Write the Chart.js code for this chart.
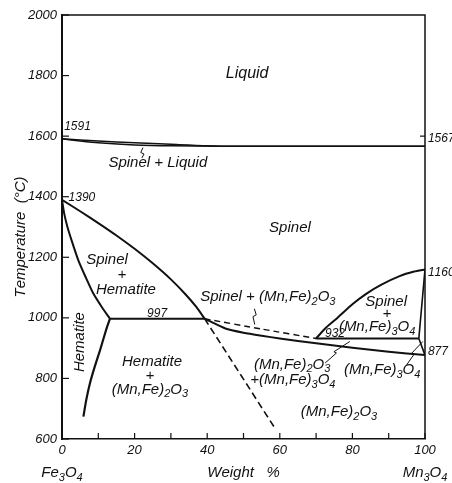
<!DOCTYPE html>
<html>
<head>
<meta charset="utf-8">
<script src="https://cdn.jsdelivr.net/npm/chart.js@4.4.1/dist/chart.umd.min.js"></script>
<style>
  html, body { margin: 0; padding: 0; background: #fff; }
  canvas { display: block; }
</style>
</head>
<body>
<canvas id="phaseChart" width="452" height="483"></canvas>
<script>
// ====================
// DATA  (x = weight % Mn3O4, y = temperature °C)
// ====================
const xTickValues = [0, 10, 20, 30, 40, 50, 60, 70, 80, 90, 100];
const xTickLabels = ["0", "", "20", "", "40", "", "60", "", "80", "", "100"];
const yTickValues = [600, 800, 1000, 1200, 1400, 1600, 1800, 2000];

const liquidusX = [0, 10, 20, 30, 45, 100];
const liquidusT = [1591, 1584, 1578, 1573, 1567, 1567];

const solidusX = [0, 5, 10, 20, 30, 45, 100];
const solidusT = [1591, 1584, 1578, 1571, 1568, 1567, 1567];

const spinelX = [0, 5, 10, 15, 20, 25, 30, 34, 37, 39.3];
const spinelT = [1390, 1352, 1313, 1272, 1228, 1180, 1127, 1078, 1036, 997];

const hemUpperX = [0, 0.6, 1.5, 2.8, 4.5, 6.5, 8.6, 11, 13.2];
const hemUpperT = [1390, 1345, 1300, 1250, 1190, 1135, 1081, 1035, 997];

const hemLowerX = [13.2, 12.3, 10.5, 9, 7.7, 6.7, 5.9];
const hemLowerT = [997, 966, 894, 838, 784, 730, 674];

const eutectoidX = [13.2, 39.3];
const eutectoidT = [997, 997];

const spinelLowX = [39.3, 45, 50, 55, 60, 70, 80, 90, 100];
const spinelLowT = [997, 965, 951, 941, 932, 916, 901, 888, 877];

const dashUpperX = [39.3, 55, 70];
const dashUpperT = [997, 963, 932];

const dashDownX = [39.3, 58.7];
const dashDownT = [997, 635];

const line932X = [70, 98.3];
const line932T = [932, 932];

const hausX = [70, 72.5, 75.7, 80, 84, 88, 93, 97, 100];
const hausT = [932, 965, 998, 1045, 1081, 1110, 1138, 1153, 1160];

const rightEdgeX = [100, 98.3, 100];
const rightEdgeT = [1160, 932, 877];

// little squiggle leaders from labels to narrow fields
const leader1X = [22.0, 22.6, 21.7, 22.3];
const leader1T = [1528, 1541, 1546, 1562];
const leader2X = [53.0, 53.5, 52.6, 53.1];
const leader2T = [1030, 1010, 1004, 978];
const leader3X = [72.5, 75.6, 74.9, 79.3];
const leader3T = [851, 884, 888, 922];
const leader4X = [94.9, 97.0, 96.4, 99.4];
const leader4T = [844, 880, 884, 922];

// region labels: text (_n = subscript), x, T
const notes = [
  ["Liquid", 51, 1808],
  ["Spinel + Liquid", 26.4, 1511],
  ["Spinel", 62.8, 1297],
  ["Spinel", 12.4, 1191],
  ["+", 16.5, 1142],
  ["Hematite", 17.6, 1092],
  ["Spinel + (Mn,Fe)_2O_3", 56.7, 1069],
  ["Spinel", 89.3, 1052],
  ["+", 89.5, 1013],
  ["(Mn,Fe)_3O_4", 86.8, 970],
  ["Hematite", 24.8, 854],
  ["+", 24.2, 808],
  ["(Mn,Fe)_2O_3", 24.2, 762],
  ["(Mn,Fe)_2O_3", 63.4, 845],
  ["+(Mn,Fe)_3O_4", 63.6, 795],
  ["(Mn,Fe)_3O_4", 88.2, 828],
  ["(Mn,Fe)_2O_3", 76.3, 689]
];
const sideNote = ["Hematite", 5, 920];

// point values written at the nodes
const nodeLabels = [
  ["1591", 0.6, 1630, "left"],
  ["1390", 1.8, 1396, "left"],
  ["997", 26.2, 1013, "center"],
  ["932", 75.2, 947, "center"],
  ["1567", 100.8, 1591, "left"],
  ["1160", 100.8, 1148, "left"],
  ["877", 100.8, 887, "left"]
];

const yTitle = "Temperature  (°C)";
const xTitle = "Weight   %";
const leftEnd = "Fe_3O_4";
const rightEnd = "Mn_3O_4";

// ====================
// HELPERS
// ====================
const FONT = '"Liberation Sans", Arial, sans-serif';

function pts(xs, ts) {
  return xs.map((x, i) => ({ x: x, y: ts[i] }));
}

function curve(xs, ts, width, dash, tension) {
  return {
    data: pts(xs, ts),
    showLine: true,
    borderColor: "#111",
    borderWidth: width,
    borderDash: dash || [],
    pointRadius: 0,
    tension: tension || 0,
    fill: false
  };
}

function richWidth(ctx, str, size) {
  let w = 0;
  for (let i = 0; i < str.length; i++) {
    if (str[i] === "_") {
      ctx.font = `italic ${Math.round(size * 0.7)}px ${FONT}`;
      w += ctx.measureText(str[i + 1]).width;
      i++;
    } else {
      ctx.font = `italic ${size}px ${FONT}`;
      w += ctx.measureText(str[i]).width;
    }
  }
  return w;
}

function drawRich(ctx, str, x, y, size, align) {
  const w = richWidth(ctx, str, size);
  let cx = align === "left" ? x : align === "right" ? x - w : x - w / 2;
  ctx.textAlign = "left";
  ctx.textBaseline = "middle";
  for (let i = 0; i < str.length; i++) {
    if (str[i] === "_") {
      ctx.font = `italic ${Math.round(size * 0.7)}px ${FONT}`;
      ctx.fillText(str[i + 1], cx, y + size * 0.3);
      cx += ctx.measureText(str[i + 1]).width;
      i++;
    } else {
      ctx.font = `italic ${size}px ${FONT}`;
      ctx.fillText(str[i], cx, y);
      cx += ctx.measureText(str[i]).width;
    }
  }
}

// ====================
// DECOR PLUGIN (frame, inward ticks, labels)
// ====================
const phaseDecor = {
  id: "phaseDecor",
  afterDraw(chart) {
    const ctx = chart.ctx;
    const a = chart.chartArea;
    const xs = chart.scales.x;
    const ys = chart.scales.y;

    ctx.save();
    ctx.strokeStyle = "#111";
    ctx.fillStyle = "#111";

    // top + right frame
    ctx.lineWidth = 1.5;
    ctx.beginPath();
    ctx.moveTo(a.left, a.top);
    ctx.lineTo(a.right, a.top);
    ctx.lineTo(a.right, a.bottom);
    ctx.stroke();

    // inward ticks
    ctx.lineWidth = 1.2;
    xTickValues.forEach(v => {
      const px = xs.getPixelForValue(v);
      ctx.beginPath();
      ctx.moveTo(px, a.bottom);
      ctx.lineTo(px, a.bottom - 6);
      ctx.stroke();
    });
    yTickValues.forEach(v => {
      const py = ys.getPixelForValue(v);
      ctx.beginPath();
      ctx.moveTo(a.left, py);
      ctx.lineTo(a.left + 7, py);
      ctx.stroke();
    });
    const p1600 = ys.getPixelForValue(1600);
    ctx.beginPath();
    ctx.moveTo(a.right, p1600);
    ctx.lineTo(a.right - 5, p1600);
    ctx.stroke();

    // region labels
    notes.forEach(n => {
      const size = n[0] === "Liquid" ? 16 : 15;
      drawRich(ctx, n[0], xs.getPixelForValue(n[1]), ys.getPixelForValue(n[2]), size, "center");
    });

    ctx.save();
    ctx.translate(xs.getPixelForValue(sideNote[1]), ys.getPixelForValue(sideNote[2]));
    ctx.rotate(-Math.PI / 2);
    drawRich(ctx, sideNote[0], 0, 0, 15, "center");
    ctx.restore();

    nodeLabels.forEach(n => {
      drawRich(ctx, n[0], xs.getPixelForValue(n[1]), ys.getPixelForValue(n[2]), 12, n[3]);
    });

    // axis titles
    ctx.save();
    ctx.translate(a.left - 41, (a.top + a.bottom) / 2 + 10);
    ctx.rotate(-Math.PI / 2);
    drawRich(ctx, yTitle, 0, 0, 15, "center");
    ctx.restore();

    const titleY = a.bottom + 34;
    drawRich(ctx, xTitle, (a.left + a.right) / 2, titleY, 15, "center");
    drawRich(ctx, leftEnd, xs.getPixelForValue(0), titleY, 15, "center");
    drawRich(ctx, rightEnd, xs.getPixelForValue(100), titleY, 15, "center");

    ctx.restore();
  }
};

// ====================
// CHART
// ====================
const datasets = [
  curve(liquidusX, liquidusT, 1.5, null, 0.2),
  curve(solidusX, solidusT, 1.5, null, 0.2),
  curve(spinelX, spinelT, 2, null, 0.2),
  curve(hemUpperX, hemUpperT, 2, null, 0.2),
  curve(hemLowerX, hemLowerT, 2.2, null, 0.2),
  curve(eutectoidX, eutectoidT, 2),
  curve(spinelLowX, spinelLowT, 2, null, 0.2),
  curve(dashUpperX, dashUpperT, 1.4, [6, 4], 0.2),
  curve(dashDownX, dashDownT, 1.6, [7, 4]),
  curve(line932X, line932T, 2),
  curve(hausX, hausT, 2, null, 0.2),
  curve(rightEdgeX, rightEdgeT, 1.6),
  curve(leader1X, leader1T, 1),
  curve(leader2X, leader2T, 1),
  curve(leader3X, leader3T, 1),
  curve(leader4X, leader4T, 1)
];

const tickFont = { family: FONT, style: "italic", size: 13 };

new Chart(document.getElementById("phaseChart"), {
  type: "scatter",
  data: { datasets },
  options: {
    responsive: false,
    animation: false,
    devicePixelRatio: 1,
    layout: { padding: { top: 15, right: 27, left: 0, bottom: 0 } },
    plugins: {
      legend: { display: false },
      tooltip: { enabled: false }
    },
    scales: {
      x: {
        type: "linear",
        min: 0,
        max: 100,
        afterFit: s => { s.height = 44; },
        afterBuildTicks: s => { s.ticks = xTickValues.map(v => ({ value: v })); },
        grid: { display: false, drawTicks: false, tickLength: 0 },
        border: { display: true, color: "#111", width: 1.5 },
        ticks: {
          autoSkip: false,
          maxRotation: 0,
          padding: 4,
          color: "#111",
          font: tickFont,
          callback: (v) => xTickLabels[xTickValues.indexOf(v)] ?? ""
        }
      },
      y: {
        type: "linear",
        min: 600,
        max: 2000,
        afterFit: s => { s.width = 62; },
        afterBuildTicks: s => { s.ticks = yTickValues.map(v => ({ value: v })); },
        grid: { display: false, drawTicks: false, tickLength: 0 },
        border: { display: true, color: "#111", width: 2 },
        ticks: {
          padding: 5,
          color: "#111",
          font: tickFont,
          callback: (v) => String(v)
        }
      }
    }
  },
  plugins: [phaseDecor]
});
</script>
</body>
</html>
